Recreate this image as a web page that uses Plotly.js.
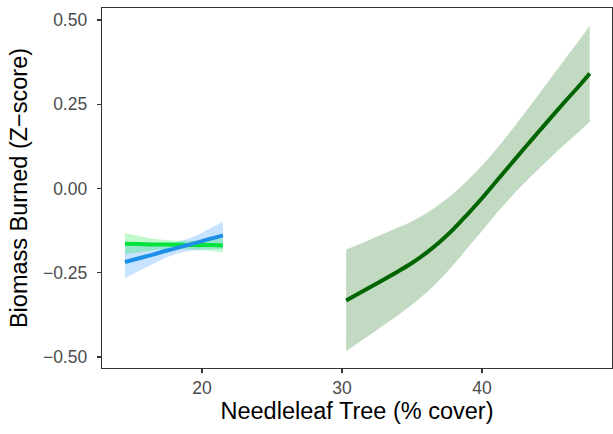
<!DOCTYPE html>
<html>
<head>
<meta charset="utf-8">
<script src="https://cdn.plot.ly/plotly-3.0.1.min.js"></script>
<style>html,body{margin:0;padding:0;background:#fff;}#chart{width:613px;height:434px;}</style>
</head>
<body>
<div id="chart"></div>
<script>
// Dark green smooth (Needleleaf 30–48)
const xDark = [30.3, 32, 34, 35, 36, 37, 38, 39, 40, 41, 42, 43, 44, 45, 46, 47, 47.7];
const yDark = [-0.332, -0.293, -0.246, -0.221, -0.192, -0.158, -0.119, -0.075, -0.029, 0.020, 0.069, 0.118, 0.166, 0.214, 0.261, 0.307, 0.341];
const upDark = [-0.181, -0.152, -0.116, -0.097, -0.074, -0.046, -0.013, 0.025, 0.068, 0.116, 0.167, 0.221, 0.276, 0.332, 0.388, 0.443, 0.484];
const loDark = [-0.483, -0.434, -0.376, -0.345, -0.310, -0.270, -0.225, -0.175, -0.126, -0.076, -0.029, 0.015, 0.056, 0.096, 0.134, 0.171, 0.198];

// Left group (14.5–21.5)
const xLeft = [14.5, 15.5, 16.5, 17.5, 18.5, 19.5, 20.5, 21.5];
const yBlue = [-0.218, -0.207, -0.196, -0.184, -0.173, -0.162, -0.150, -0.139];
const upBlue = [-0.169, -0.169, -0.168, -0.164, -0.156, -0.141, -0.120, -0.099];
const loBlue = [-0.267, -0.245, -0.224, -0.204, -0.190, -0.183, -0.180, -0.179];
const yLime = [-0.164, -0.165, -0.166, -0.166, -0.167, -0.168, -0.168, -0.169];
const upLime = [-0.132, -0.141, -0.149, -0.153, -0.155, -0.154, -0.151, -0.148];
const loLime = [-0.196, -0.189, -0.183, -0.179, -0.179, -0.182, -0.185, -0.190];

const xTicks = [20, 30, 40];
const yTicks = [-0.5, -0.25, 0, 0.25, 0.5];

function band(x, lo, up, fill) {
  return [
    {x: x, y: lo, mode: 'lines', line: {width: 0, color: 'rgba(0,0,0,0)', shape: 'spline'}, hoverinfo: 'skip', showlegend: false},
    {x: x, y: up, mode: 'lines', fill: 'tonexty', fillcolor: fill, line: {width: 0, color: 'rgba(0,0,0,0)', shape: 'spline'}, hoverinfo: 'skip', showlegend: false}
  ];
}
function line(x, y, color) {
  return {x: x, y: y, mode: 'lines', line: {width: 4, color: color, shape: 'spline'}, showlegend: false};
}

const data = [].concat(
  band(xDark, loDark, upDark, 'rgba(0,100,0,0.24)'),
  band(xLeft, loBlue, upBlue, 'rgba(30,144,255,0.25)'),
  band(xLeft, loLime, upLime, 'rgba(0,230,50,0.25)'),
  [line(xDark, yDark, '#006400'), line(xLeft, yLime, '#00E33C'), line(xLeft, yBlue, '#1E8FE6')]
);

const FONT = 'Liberation Sans, Arial, Helvetica, sans-serif';
const axisCommon = {
  showgrid: false, zeroline: false,
  showline: true, mirror: true, linecolor: '#333333', linewidth: 1.3,
  ticks: 'outside', ticklen: 4, tickwidth: 1.2, tickcolor: '#333333',
  tickfont: {family: FONT, size: 17.5, color: '#4d4d4d'}
};

const layout = {
  width: 613, height: 434,
  margin: {l: 102, r: 1, t: 8, b: 66},
  paper_bgcolor: '#ffffff', plot_bgcolor: '#ffffff',
  showlegend: false,
  xaxis: Object.assign({}, axisCommon, {
    range: [12.86, 49.29], tickvals: xTicks, ticktext: xTicks.map(String),
    title: {text: 'Needleleaf Tree (% cover)', font: {family: FONT, size: 23.5, color: '#000'}, standoff: 1}
  }),
  yaxis: Object.assign({}, axisCommon, {
    range: [-0.5326, 0.5356], tickvals: yTicks, tickformat: '.2f', ticklabelstandoff: 6,
    title: {text: 'Biomass Burned (Z\u2212score)', font: {family: FONT, size: 23.5, color: '#000'}, standoff: 8}
  })
};

Plotly.newPlot('chart', data, layout, {staticPlot: true, displayModeBar: false});
</script>
</body>
</html>
